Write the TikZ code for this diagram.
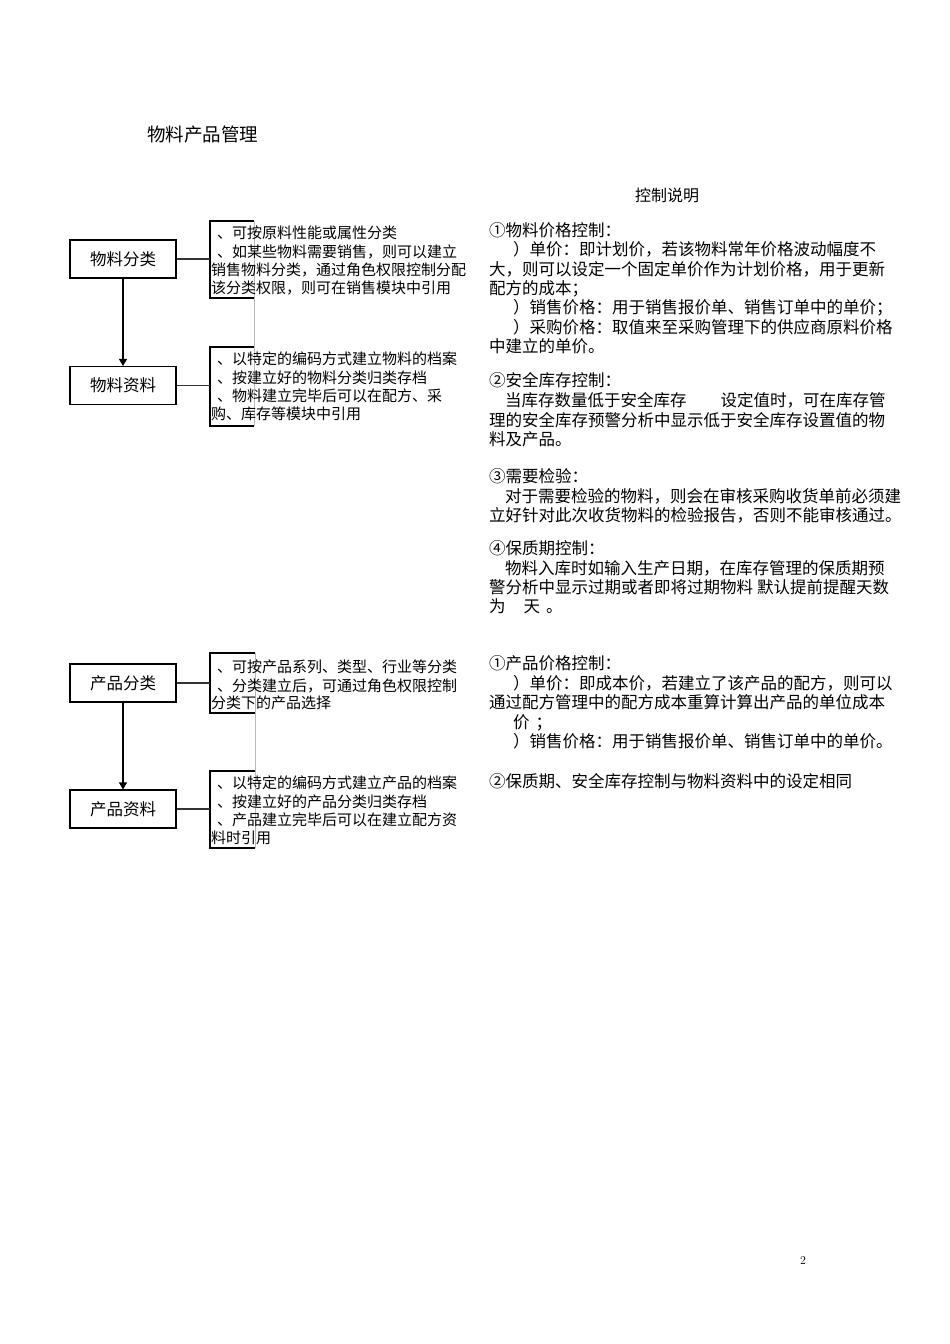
\documentclass[tikz,border=0pt]{standalone}
\usepackage{fontspec}
\newfontfamily\cjk{Noto Sans CJK SC}
\usetikzlibrary{arrows.meta}
\begin{document}
\begin{tikzpicture}[x=1pt,y=-1pt,
  lt/.style={anchor=west,inner sep=0pt,text height=1.12em,text depth=0em,font=\cjk\fontsize{15}{15}\selectfont},
  rt/.style={anchor=west,inner sep=0pt,text height=1.12em,text depth=0em,font=\cjk\fontsize{16.5}{16.5}\selectfont},
  boxn/.style={draw,line width=1.1pt,minimum width=106pt,minimum height=38pt,inner sep=0pt,font=\cjk\fontsize{16.5}{16.5}\selectfont},
  brk/.style={line width=1.1pt},
  glin/.style={gray!55,line width=0.9pt},
  conn/.style={gray!40!black,line width=1.3pt},
  arr/.style={line width=1.1pt,-{Triangle[length=7pt,width=8pt]}}]
\useasboundingbox[fill=white] (0,0) rectangle (950,1344);

% title
\node[anchor=west,inner sep=0pt,text height=1.12em,text depth=0em,font=\cjk\fontsize{18.5}{18.5}\selectfont] (title) at (147,136) {物料产品管理};
\node[inner sep=0pt,text height=1.12em,text depth=0em,font=\cjk\fontsize{16}{16}\selectfont] (ctl) at (667,196) {控制说明};

% ---------- material section ----------
\node[boxn] (c1) at (123,259) {物料分类};
\node[boxn] (c2) at (123,385.5) {物料资料};
\draw[arr] (c1.south) -- (c2.north);

\draw[glin] (254,221) -- (254,426);
\draw[brk] (254,221) -- (210,221) -- (210,298) -- (254,298);
\draw[brk] (254,347) -- (210,347) -- (210,426) -- (254,426);
\coordinate (b1) at (210,259);
\coordinate (b2) at (210,385.5);
\draw[conn] (c1.east) -- (b1);
\draw[conn] (c2.east) -- (b2);

\node[lt] (t11) at (217,233) {、可按原料性能或属性分类};
\node[lt] (t12) at (217,252) {、如某些物料需要销售，则可以建立};
\node[lt] (t13) at (211,270) {销售物料分类，通过角色权限控制分配};
\node[lt] (t14) at (211,288) {该分类权限，则可在销售模块中引用};

\node[lt] (t21) at (217,359) {、以特定的编码方式建立物料的档案};
\node[lt] (t22) at (217,378) {、按建立好的物料分类归类存档};
\node[lt] (t23) at (217,396) {、物料建立完毕后可以在配方、采};
\node[lt] (t24) at (211,414) {购、库存等模块中引用};

% right column material
\node[rt] (r1) at (489,231) {①物料价格控制：};
\node[rt] (r2) at (513,250) {）单价：即计划价，若该物料常年价格波动幅度不};
\node[rt] (r3) at (489,270) {大，则可以设定一个固定单价作为计划价格，用于更新};
\node[rt] (r4) at (489,289) {配方的成本；};
\node[rt] (r5) at (513,308) {）销售价格：用于销售报价单、销售订单中的单价；};
\node[rt] (r6) at (513,328) {）采购价格：取值来至采购管理下的供应商原料价格};
\node[rt] (r7) at (489,347) {中建立的单价。};

\node[rt] (r8) at (489,381) {②安全库存控制：};
\node[rt] (r9) at (505,401) {当库存数量低于安全库存\hspace{34pt}设定值时，可在库存管};
\node[rt] (r10) at (489,421) {理的安全库存预警分析中显示低于安全库存设置值的物};
\node[rt] (r11) at (489,440) {料及产品。};

\node[rt] (r12) at (489,477) {③需要检验：};
\node[rt] (r13) at (505,497) {对于需要检验的物料，则会在审核采购收货单前必须建};
\node[rt] (r14) at (489,516) {立好针对此次收货物料的检验报告，否则不能审核通过。};

\node[rt] (r15) at (489,549) {④保质期控制：};
\node[rt] (r16) at (505,569) {物料入库时如输入生产日期，在库存管理的保质期预};
\node[rt] (r17) at (489,588) {警分析中显示过期或者即将过期物料\hspace{4pt}默认提前提醒天数};
\node[rt] (r18) at (489,607) {为\hspace{18pt}天\hspace{6pt}。};

% ---------- product section ----------
\node[boxn] (p1) at (123,683) {产品分类};
\node[boxn] (p2) at (123,809) {产品资料};
\draw[arr] (p1.south) -- (p2.north);

\draw[glin] (255,653) -- (255,848);
\draw[brk] (255,653) -- (210,653) -- (210,713) -- (255,713);
\draw[brk] (255,771) -- (210,771) -- (210,848) -- (255,848);
\coordinate (b3) at (210,683);
\coordinate (b4) at (210,809);
\draw[conn] (p1.east) -- (b3);
\draw[conn] (p2.east) -- (b4);

\node[lt] (t31) at (217,667) {、可按产品系列、类型、行业等分类};
\node[lt] (t32) at (217,686) {、分类建立后，可通过角色权限控制};
\node[lt] (t33) at (211,703) {分类下的产品选择};

\node[lt] (t41) at (217,783) {、以特定的编码方式建立产品的档案};
\node[lt] (t42) at (217,802) {、按建立好的产品分类归类存档};
\node[lt] (t43) at (217,820) {、产品建立完毕后可以在建立配方资};
\node[lt] (t44) at (211,838) {料时引用};

% right column product
\node[rt] (s1) at (489,664) {①产品价格控制：};
\node[rt] (s2) at (513,684) {）单价：即成本价，若建立了该产品的配方，则可以};
\node[rt] (s3) at (489,703) {通过配方管理中的配方成本重算计算出产品的单位成本};
\node[rt] (s4) at (513,723) {价\hspace{6pt}；};
\node[rt] (s5) at (513,742) {）销售价格：用于销售报价单、销售订单中的单价。};
\node[rt] (s6) at (489,782) {②保质期、安全库存控制与物料资料中的设定相同};

% page number
\node[inner sep=0pt,font=\fontsize{12}{12}\selectfont] (pg) at (803,1260) {2};
\end{tikzpicture}
\end{document}
